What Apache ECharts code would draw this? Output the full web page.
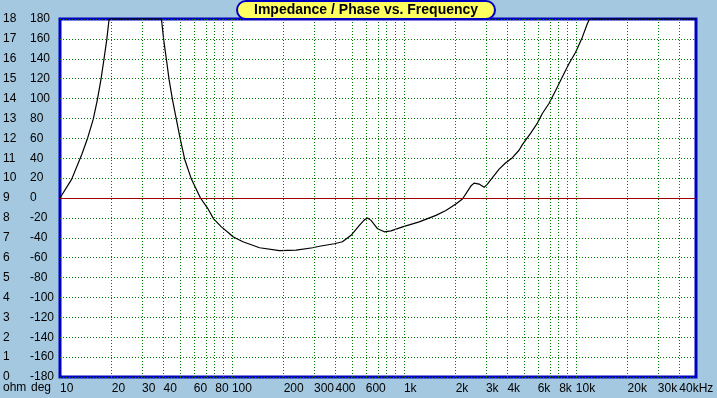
<!DOCTYPE html>
<html>
<head>
<meta charset="utf-8">
<script src="https://cdn.jsdelivr.net/npm/echarts@6/dist/echarts.min.js"></script>
<style>
  html, body { margin: 0; padding: 0; background: #a4c8e0; }
  #chart { width: 717px; height: 398px; }
</style>
</head>
<body>
<div id="chart"></div>
<script>
// phase curve (Hz, degrees); flat 180 parts are clipped in the original
const freqHz = [10, 11.7, 13.4, 14.4, 15.6, 16.5, 17.3, 18.0, 18.7, 19.3, 38.9, 40.1, 41.6, 43.1, 45.1,
  47.5, 50.1, 53.1, 58.1, 65.6, 72.6, 78.3, 86.8, 97, 101.4, 115.8, 144.8, 189, 236, 295, 323, 394,
  439, 493, 551, 589, 615, 644, 704, 769, 841, 983, 1228, 1536, 1755, 2006, 2191, 2242, 2452, 2562,
  2739, 2929, 3061, 3275, 3580, 3913, 4277, 4675, 4887, 5468, 5976, 6387, 6982, 7632, 8343, 9120,
  9970, 10900, 11650, 12020, 50000];
const phaseDeg = [0, 19, 44, 59, 79, 99, 119, 139, 159, 180, 180, 159, 139, 119, 99,
  79, 59, 39, 19, 0, -11, -21, -29, -36, -39, -44, -50, -53, -52.5, -50, -48.5, -46,
  -44, -37.5, -27.5, -22, -20, -22.5, -31, -34, -33, -29, -24, -17.5, -12.6, -6, -1, 0, 12, 15,
  14, 10.7, 14, 20.6, 29, 35.5, 40.5, 48, 53.7, 65.3, 75.3, 85, 95, 108, 121.6, 135,
  146.5, 161.5, 175, 180, 180];

const labelFreqs = [10, 20, 30, 40, 60, 80, 100, 200, 300, 400, 600, 1000, 2000, 3000, 4000, 6000, 8000,
  10000, 20000, 30000, 40000];
const labelTexts = ['10', '20', '30', '40', '60', '80', '100', '200', '300', '400', '600', '1k', '2k', '3k',
  '4k', '6k', '8k', '10k', '20k', '30k', '40kHz'];
const gridFreqs = [20, 30, 40, 50, 60, 70, 80, 90, 100, 200, 300, 400, 500, 600, 700, 800, 900, 1000,
  2000, 3000, 4000, 5000, 6000, 7000, 8000, 9000, 10000, 20000, 30000, 40000];

const fMin = 10;
const fMax = 50000;
const lg = Math.log10;

const chart = echarts.init(document.getElementById('chart'));
const font = '"Liberation Sans", Arial, sans-serif';
const green = '#007800';

const vLines = gridFreqs.map(f => ({ xAxis: lg(f) }));

chart.setOption({
  animation: false,
  backgroundColor: '#a4c8e0',
  title: {
    text: 'Impedance / Phase vs. Frequency',
    left: 237,
    top: 1,
    padding: [1, 17, 1, 17],
    backgroundColor: '#ffff60',
    borderColor: '#0000c0',
    borderWidth: 2,
    borderRadius: 9,
    textStyle: { fontFamily: font, fontSize: 14, fontWeight: 'bold', color: '#000', lineHeight: 16 }
  },
  grid: {
    left: 60, top: 19, width: 636, height: 358,
    show: true, backgroundColor: '#fff', borderColor: '#0000c0', borderWidth: 3,
    outerBoundsMode: 'none'
  },
  xAxis: {
    type: 'value',
    min: lg(fMin),
    max: lg(fMax),
    axisLine: { show: false },
    axisTick: { show: false },
    splitLine: { show: false },
    axisLabel: {
      customValues: labelFreqs.map(lg),
      formatter: v => {
        const i = labelFreqs.findIndex(f => Math.abs(lg(f) - v) < 1e-6);
        return i >= 0 ? labelTexts[i] : '';
      },
      align: 'left',
      margin: 6,
      fontFamily: font, fontSize: 12, color: '#000'
    }
  },
  yAxis: [{
    type: 'value',
    min: -180, max: 180, interval: 20,
    axisLine: { show: false },
    axisTick: { show: false },
    splitLine: { show: true, lineStyle: { color: green, type: [1, 2], width: 1 } },
    axisLabel: {
      align: 'left', margin: 30, padding: [0, 0, 7, 0],
      fontFamily: font, fontSize: 12, color: '#000'
    }
  }, {
    type: 'value',
    min: 0, max: 18, interval: 1,
    position: 'left',
    axisLine: { show: false },
    axisTick: { show: false },
    splitLine: { show: false },
    axisLabel: {
      align: 'left', margin: 57, padding: [0, 0, 7, 0],
      fontFamily: font, fontSize: 12, color: '#000'
    }
  }],
  graphic: [
    { type: 'text', left: 3, top: 382, style: { text: 'ohm', font: '12px ' + font, fill: '#000' } },
    { type: 'text', left: 31, top: 382, style: { text: 'deg', font: '12px ' + font, fill: '#000' } }
  ],
  series: [{
    type: 'line',
    data: [],
    z: 1,
    markLine: {
      silent: true,
      symbol: 'none',
      animation: false,
      label: { show: false },
      lineStyle: { color: green, type: [1, 2], width: 1 },
      data: vLines
    }
  }, {
    type: 'line',
    z: 3,
    clip: false,
    yAxisIndex: 0,
    data: freqHz.map((f, i) => [lg(f), phaseDeg[i]]),
    showSymbol: false,
    symbol: 'none',
    lineStyle: { color: '#000', width: 1.2 },
    markLine: {
      silent: true,
      symbol: 'none',
      animation: false,
      label: { show: false },
      lineStyle: { color: '#a00000', type: 'solid', width: 1.2 },
      data: [{ yAxis: 0 }]
    }
  }]
});
</script>
</body>
</html>
